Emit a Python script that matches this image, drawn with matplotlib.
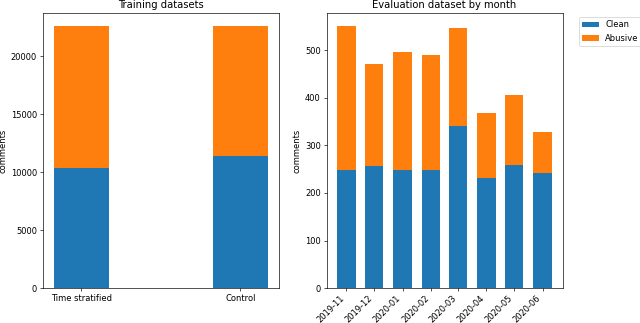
import numpy as np
import pandas as pd
import matplotlib
matplotlib.use("Agg")
import matplotlib.pyplot as plt
import matplotlib.dates as mdates

# training sets
train_names = ["Time stratified", "Control"]
train_clean = [10350, 11380]
train_abusive = [12240, 11210]

# evaluation set by month
months = ["2019-11", "2019-12", "2020-01", "2020-02",
          "2020-03", "2020-04", "2020-05", "2020-06"]
eval_clean = [248, 256, 249, 249, 340, 231, 258, 243]
eval_abusive = [303, 216, 248, 241, 206, 137, 147, 85]

fig, (ax1, ax2) = plt.subplots(1, 2, figsize=(640 / 60, 323 / 60), dpi=60)
fig.subplots_adjust(left=0.067, right=0.879, bottom=0.108, top=0.96, wspace=0.202)

# left panel
x = np.arange(len(train_names))
ax1.bar(x, train_clean, width=0.35, color="C0", label="Clean")
ax1.bar(x, train_abusive, width=0.35, bottom=train_clean, color="C1", label="Abusive")
ax1.set_xticks(x)
ax1.set_xticklabels(train_names)
ax1.set_ylabel("comments")
ax1.set_title("Training datasets")

# right panel, x positions are real dates
dates = mdates.date2num(pd.to_datetime(months).to_pydatetime())
ax2.bar(dates, eval_clean, width=20, color="C0", label="Clean")
ax2.bar(dates, eval_abusive, width=20, bottom=eval_clean, color="C1", label="Abusive")
ax2.set_xticks(dates)
ax2.set_xticklabels(months)
plt.setp(ax2.get_xticklabels(), rotation=45, ha="right")
ax2.set_ylabel("comments")
ax2.set_title("Evaluation dataset by month")
ax2.legend(bbox_to_anchor=(1.05, 1), loc="upper left")

fig.savefig("out.png", dpi=60)
